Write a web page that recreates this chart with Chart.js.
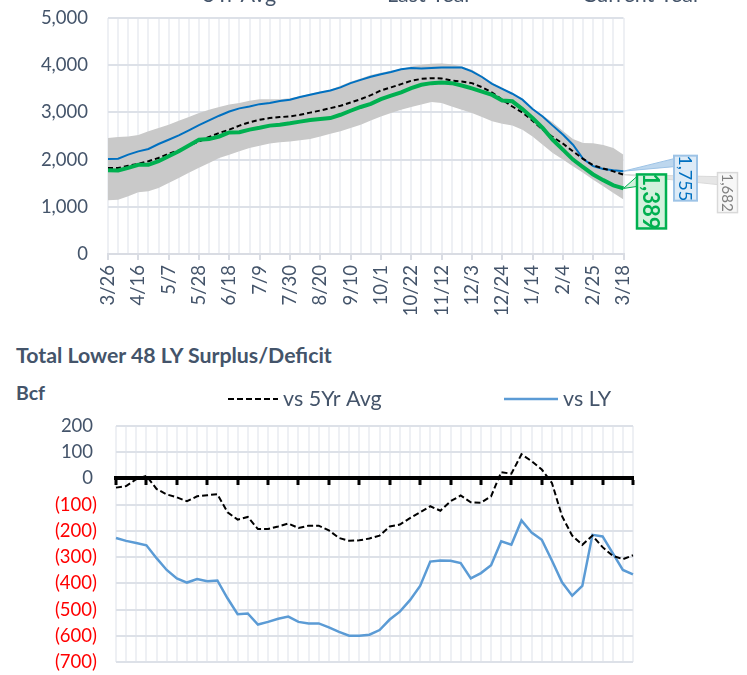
<!DOCTYPE html>
<html><head><meta charset="utf-8">
<script src="https://cdn.jsdelivr.net/npm/chart.js@4.4.0/dist/chart.umd.min.js"></script>
<style>
html,body{margin:0;padding:0;background:#fff;overflow:hidden;}
body{width:747px;height:675px;position:relative;font-family:Lato,sans-serif;}
#top{position:absolute;left:0;top:0;width:747px;height:322px;}
#bot{position:absolute;left:0;top:322px;width:747px;height:353px;}
.ttl{position:absolute;left:16px;font-weight:bold;color:#44546A;white-space:nowrap;font-family:Lato,sans-serif;}
</style></head><body>
<div id="top"><canvas id="c1"></canvas></div>
<div class="ttl" style="top:345px;font-size:21.3px;line-height:21px;">Total Lower 48 LY Surplus/Deficit</div>
<div class="ttl" style="top:383px;font-size:19.5px;line-height:19.5px;">Bcf</div>
<div id="bot"><canvas id="c2"></canvas></div>
<script>
const weeks = ['3/26','4/2','4/9','4/16','4/23','4/30','5/7','5/14','5/21','5/28','6/4','6/11','6/18','6/25','7/2','7/9','7/16','7/23','7/30','8/6','8/13','8/20','8/27','9/3','9/10','9/17','9/24','10/1','10/8','10/15','10/22','10/29','11/5','11/12','11/19','11/26','12/3','12/10','12/17','12/24','12/31','1/7','1/14','1/21','1/28','2/4','2/11','2/18','2/25','3/4','3/11','3/18'];

const currentYear = [1775,1770,1825,1890,1890,1965,2070,2175,2300,2420,2435,2490,2575,2580,2635,2675,2720,2740,2770,2805,2840,2860,2880,2950,3035,3115,3180,3280,3355,3425,3515,3585,3620,3635,3620,3570,3510,3440,3370,3250,3235,3070,2880,2670,2420,2210,2000,1840,1685,1565,1455,1389];
const lastYear = [2015,2020,2105,2175,2225,2330,2420,2515,2620,2730,2830,2930,3020,3085,3125,3175,3200,3240,3270,3325,3375,3420,3465,3530,3620,3690,3755,3810,3855,3915,3940,3930,3940,3950,3950,3950,3870,3750,3605,3500,3395,3270,3070,2915,2720,2530,2315,2015,1860,1800,1775,1755];
const avg5yr = [1820,1820,1870,1910,1965,2035,2125,2195,2295,2385,2480,2565,2635,2720,2790,2845,2880,2900,2915,2950,2995,3040,3090,3140,3210,3280,3365,3465,3530,3600,3670,3710,3725,3720,3675,3655,3620,3535,3420,3270,3125,3000,2825,2635,2480,2340,2175,2015,1880,1810,1750,1682];
const rangeMax = [2460,2480,2490,2520,2600,2670,2740,2825,2900,2985,3055,3115,3165,3200,3245,3280,3280,3280,3300,3340,3395,3445,3480,3565,3650,3720,3790,3840,3880,3920,3975,4010,4030,4035,4020,3975,3905,3775,3630,3525,3405,3285,3095,2935,2785,2605,2435,2350,2345,2310,2245,2105];
const rangeMin = [1140,1150,1225,1310,1330,1400,1505,1610,1720,1825,1930,2035,2105,2175,2245,2295,2340,2365,2385,2410,2435,2490,2550,2600,2670,2740,2830,2915,2985,3055,3115,3165,3220,3200,3125,3055,2985,2900,2810,2760,2720,2635,2490,2315,2140,2000,1860,1720,1575,1435,1295,1155];

const vsAvg = [-35,-29,-3,10,-40,-61,-72,-87,-68,-64,-60,-129,-157,-147,-193,-193,-183,-172,-189,-180,-180,-198,-227,-238,-236,-229,-218,-183,-176,-151,-129,-106,-123,-87,-65,-91,-93,-68,24,18,92,66,34,-17,-144,-218,-253,-218,-262,-295,-308,-293];
const vsLY = [-227,-238,-246,-255,-304,-349,-381,-397,-384,-392,-389,-457,-518,-515,-557,-547,-535,-527,-547,-553,-553,-568,-585,-600,-600,-596,-578,-538,-508,-464,-410,-317,-313,-314,-323,-381,-361,-331,-240,-253,-160,-206,-234,-313,-396,-447,-410,-215,-221,-285,-349,-366];

const topTicks = [0,1000,2000,3000,4000,5000];
const botTicks = [-700,-600,-500,-400,-300,-200,-100,0,100,200];

const FONT = 'Lato';
const TXT = '#44546A';
const CLEAR = 'rgba(0,0,0,0)';

function legendPlugin(id, y, items, fontSize) {
  return {
    id,
    afterDraw(chart) {
      const ctx = chart.ctx;
      ctx.save();
      items.forEach(it => {
        ctx.beginPath();
        ctx.strokeStyle = it.color;
        ctx.lineWidth = it.width;
        ctx.setLineDash(it.dash || []);
        ctx.moveTo(it.x - it.len - 5, y);
        ctx.lineTo(it.x - 5, y);
        ctx.stroke();
        ctx.setLineDash([]);
        ctx.fillStyle = TXT;
        ctx.font = fontSize + 'px ' + FONT;
        ctx.textBaseline = 'middle';
        ctx.textAlign = 'left';
        ctx.fillText(it.text, it.x, y);
      });
      ctx.restore();
    }
  };
}

const calloutPlugin = {
  id: 'callouts',
  afterDatasetsDraw(chart) {
    const ctx = chart.ctx;
    const specs = [
      {ds: 1, dx: 94, dy: -2, w: 20, h: 40, p1: 4, p2: 12, fill: '#F7F7F7', stroke: '#D9D9D9', lw: 1.5, color: '#808080', font: '15px ' + FONT, wedge: '#E6E6E6'},
      {ds: 2, dx: 50.5, dy: -15.5, w: 23, h: 45, p1: 3, p2: 11, fill: '#DDEBF7', stroke: '#9DC3E6', lw: 2, color: '#0070C0', font: '18px ' + FONT, wedge: '#BDD7EE'},
      {ds: 0, dx: 13.5, dy: -14, w: 29, h: 54, p1: 2, p2: 12, fill: '#D3F1DD', stroke: '#00B050', lw: 2.5, color: '#00B050', font: 'bold 22px ' + FONT, wedge: '#D3F1DD'}
    ];
    ctx.save();
    specs.forEach(s => {
      const meta = chart.getDatasetMeta(s.ds);
      const pt = meta.data[meta.data.length - 1];
      const ds = chart.data.datasets[s.ds].data;
      const val = ds[ds.length - 1];
      const px = pt.x, py = pt.y;
      const bx = px + s.dx, by = py + s.dy;
      ctx.beginPath();
      ctx.moveTo(px, py);
      ctx.lineTo(bx, by + s.p1);
      ctx.lineTo(bx, by + s.p2);
      ctx.closePath();
      ctx.fillStyle = s.wedge;
      ctx.fill();
      ctx.lineWidth = 1;
      ctx.strokeStyle = s.stroke;
      ctx.stroke();
      ctx.fillStyle = s.fill;
      ctx.fillRect(bx, by, s.w, s.h);
      ctx.lineWidth = s.lw;
      ctx.strokeStyle = s.stroke;
      ctx.strokeRect(bx, by, s.w, s.h);
      ctx.save();
      ctx.translate(bx + s.w / 2, by + s.h / 2);
      ctx.rotate(Math.PI / 2);
      ctx.fillStyle = s.color;
      ctx.font = s.font;
      ctx.textAlign = 'center';
      ctx.textBaseline = 'middle';
      ctx.fillText(val.toLocaleString('en-US'), 0, 1);
      ctx.restore();
    });
    ctx.restore();
  }
};

new Chart(document.getElementById('c1'), {
  type: 'line',
  data: {
    labels: weeks,
    datasets: [
      {label: 'Current Year', data: currentYear, borderColor: '#00B050', borderWidth: 4, pointRadius: 0, tension: 0},
      {label: '5Yr Avg', data: avg5yr, borderColor: '#000000', borderWidth: 2, borderDash: [5, 3], pointRadius: 0},
      {label: 'Last Year', data: lastYear, borderColor: '#0070C0', borderWidth: 2, pointRadius: 0},
      {label: 'Max', data: rangeMax, borderColor: CLEAR, borderWidth: 0, pointRadius: 0},
      {label: 'Min', data: rangeMin, borderColor: CLEAR, borderWidth: 0, pointRadius: 0, fill: '-1', backgroundColor: '#C9C9C9'}
    ]
  },
  options: {
    responsive: true, maintainAspectRatio: false, animation: false,
    layout: {padding: {top: 18, right: 123.5, left: 0, bottom: 0}},
    plugins: {legend: {display: false}, tooltip: {enabled: false}, filler: {drawTime: 'beforeDatasetsDraw'}},
    scales: {
      x: {
        grid: {color: '#EEF0F4', lineWidth: 2, tickLength: 6, tickWidth: 2,
               tickColor: c => (c.index % 3 === 0 ? '#D9DCE3' : CLEAR)},
        border: {color: '#D9DCE3', width: 2},
        ticks: {autoSkip: false, minRotation: 90, maxRotation: 90, padding: 5, color: TXT,
                font: {family: FONT, size: 18.5},
                callback: (v, i) => (i % 3 === 0 ? weeks[i] : '')},
        afterFit: s => { s.height = 68; }
      },
      y: {
        min: topTicks[0], max: topTicks[topTicks.length - 1],
        afterBuildTicks: s => { s.ticks = topTicks.map(v => ({value: v})); },
        ticks: {padding: 0, color: TXT, font: {family: FONT, size: 18.5},
                callback: v => Number(v).toLocaleString('en-US')},
        grid: {color: '#DDE1E8', lineWidth: 2, drawTicks: true, tickLength: 20, tickColor: CLEAR},
        border: {display: false},
        afterFit: s => { s.width = 108; }
      }
    }
  },
  plugins: [
    legendPlugin('topLegend', -5, [
      {x: 203, text: '5Yr Avg', color: '#000', width: 2, dash: [5, 3], len: 50},
      {x: 387, text: 'Last Year', color: '#0070C0', width: 2, len: 50},
      {x: 582, text: 'Current Year', color: '#00B050', width: 4, len: 50}
    ], 21.5),
    calloutPlugin
  ]
});

new Chart(document.getElementById('c2'), {
  type: 'line',
  data: {
    labels: weeks,
    datasets: [
      {label: 'vs 5Yr Avg', data: vsAvg, borderColor: '#000000', borderWidth: 2, borderDash: [6, 3], pointRadius: 0},
      {label: 'vs LY', data: vsLY, borderColor: '#5B9BD5', borderWidth: 2.5, pointRadius: 0}
    ]
  },
  options: {
    responsive: true, maintainAspectRatio: false, animation: false,
    layout: {padding: {top: 104, right: 114, left: 0, bottom: 13}},
    plugins: {legend: {display: false}, tooltip: {enabled: false}},
    scales: {
      x: {
        position: {y: 0},
        grid: {color: '#EEF0F4', lineWidth: 2, tickLength: 5, tickWidth: 3,
               tickColor: c => (c.index % 3 === 0 ? '#000' : CLEAR)},
        border: {color: '#000', width: 4},
        ticks: {display: false, autoSkip: false}
      },
      y: {
        min: botTicks[0], max: botTicks[botTicks.length - 1],
        afterBuildTicks: s => { s.ticks = botTicks.map(v => ({value: v})); },
        ticks: {padding: 0, font: {family: FONT, size: 18.5},
                color: c => (c.tick && c.tick.value < 0 ? '#FF0000' : TXT),
                callback: v => (v < 0 ? '(' + Math.abs(v) + ')' : v + '\u2008')},
        grid: {color: '#DDE1E8', lineWidth: 2, drawTicks: true, tickLength: 19, tickColor: CLEAR},
        border: {display: false},
        afterFit: s => { s.width = 116; }
      }
    }
  },
  plugins: [
    legendPlugin('botLegend', 77, [
      {x: 283, text: 'vs 5Yr Avg', color: '#000', width: 2, dash: [6, 3], len: 50},
      {x: 563, text: 'vs LY', color: '#5B9BD5', width: 2.5, len: 54}
    ], 21.5)
  ]
});
</script>
</body></html>
